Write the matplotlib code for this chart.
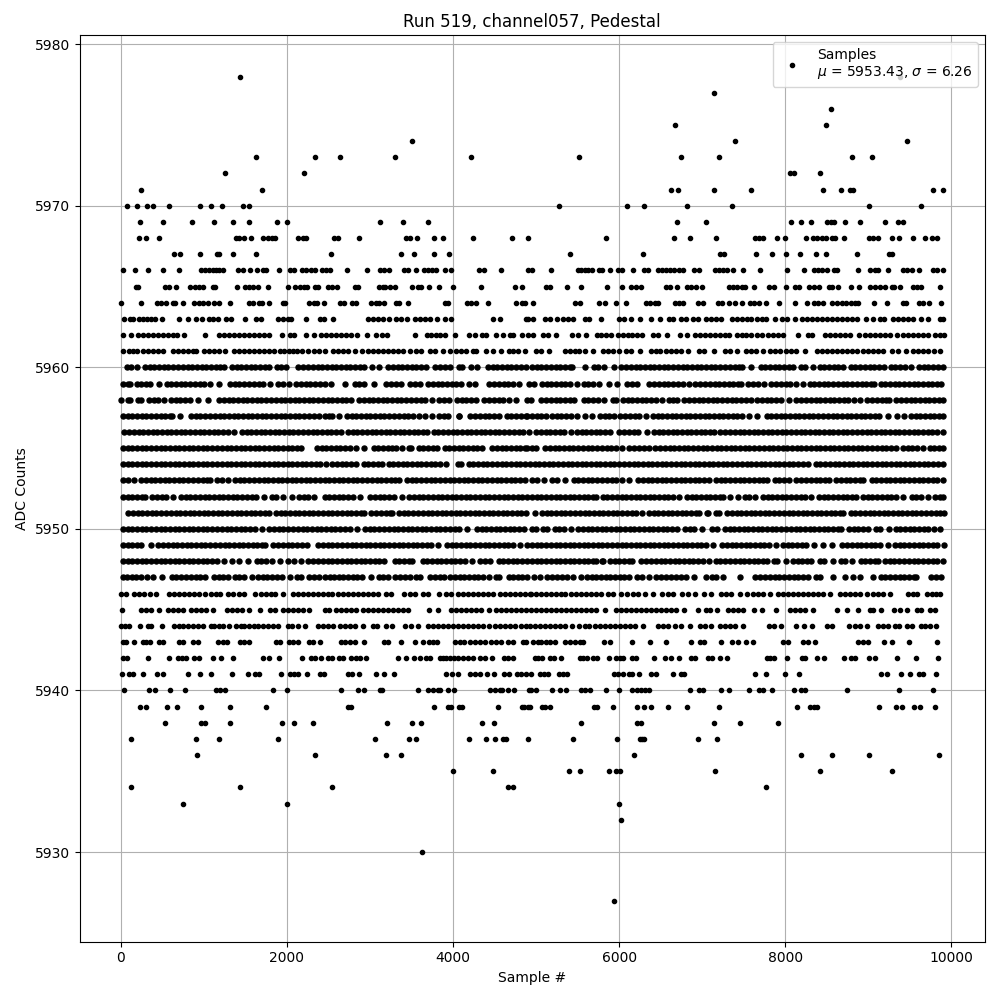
import matplotlib
matplotlib.use('Agg')
import matplotlib.pyplot as plt

# sample numbers, one list per ADC level
s5927 = [5940]
s5930 = [3626]
s5932 = [6024]
s5933 = [747, 2000, 6000]
s5934 = [120, 1434, 2542, 4663, 4723, 7771]
s5935 = [4000, 4482, 5398, 5530, 5880, 5968, 6016, 7157, 8421, 9289]
s5936 = [916, 2337, 3193, 3373, 6181, 8193, 8566, 9012, 9855]
s5937 = [120, 904, 1181, 1892, 3060, 3470, 3554, 4193, 4398, 4506, 4602, 4634, 4900, 5446, 5976, 6249, 6277, 6301, 6952, 7181]
s5938 = [530, 964, 1020, 1313, 1940, 2084, 2313, 3205, 3506, 3614, 4349, 4494, 5542, 6217, 6269, 7145, 7458, 7916]
s5939 = [229, 301, 554, 675, 964, 1313, 1747, 2735, 2775, 3771, 3936, 3980, 4068, 4104, 4542, 4827, 4859, 4900, 4924, 5072, 5112, 5173, 5699, 5731, 5928, 6217, 6305, 6386, 6590, 6819, 7205, 8145, 8301, 8345, 8385, 9132, 9337, 9402, 9550, 9618, 9807]
s5940 = [36, 337, 410, 590, 771, 1145, 1193, 1253, 1831, 2000, 2651, 2855, 2928, 3116, 3145, 3578, 3699, 3759, 3819, 3847, 3936, 4012, 4446, 4506, 4562, 4586, 4663, 4731, 4916, 4944, 5004, 5189, 5293, 5365, 5542, 5586, 5651, 5839, 6000, 6157, 6217, 6269, 6317, 6357, 6859, 6960, 7012, 7229, 7325, 7566, 7687, 7735, 7843, 8108, 8193, 8233, 8747, 9373, 9783]
s5941 = [12, 96, 153, 265, 434, 514, 807, 952, 1088, 1337, 1530, 1622, 1671, 1932, 2044, 2084, 2132, 2241, 2401, 2446, 2735, 2787, 2867, 3072, 3169, 3289, 3920, 3984, 4056, 4209, 4261, 4321, 4410, 4494, 4614, 4675, 4771, 4823, 4883, 4936, 5044, 5100, 5141, 5277, 5325, 5378, 5936, 5988, 6052, 6116, 6153, 6241, 6386, 6446, 6647, 6747, 6783, 7635, 7771, 8000, 8169, 9157, 9229, 9398, 9506, 9610, 9663, 9819]
s5942 = [24, 76, 325, 578, 687, 739, 787, 880, 940, 1116, 1205, 1349, 1711, 1791, 1904, 2185, 2293, 2341, 2406, 2494, 2542, 2634, 2675, 2775, 2827, 2887, 2948, 3337, 3434, 3530, 3598, 3679, 3727, 3839, 3879, 3920, 3960, 4008, 4060, 4120, 4181, 4241, 4321, 4381, 4470, 4614, 4663, 4723, 4984, 5024, 5076, 5165, 5213, 5301, 5526, 5566, 5614, 5687, 5739, 5880, 5960, 6008, 6048, 6161, 6201, 6422, 6554, 6626, 6723, 6871, 6912, 7072, 7124, 7217, 7301, 7783, 7823, 7867, 8024, 8197, 8237, 8386, 8466, 8711, 8791, 8839, 9012, 9080, 9349, 9578, 9843]
s5943 = [24, 64, 157, 265, 305, 353, 458, 514, 699, 747, 867, 928, 1169, 1237, 1277, 1438, 1482, 1542, 1871, 1920, 2024, 2072, 2132, 2265, 2321, 2401, 2655, 2703, 2763, 2815, 2928, 3165, 3213, 3373, 3542, 3639, 3707, 3759, 3807, 4020, 4080, 4128, 4209, 4261, 4321, 4381, 4462, 4522, 4582, 4663, 4723, 4843, 4883, 4964, 5024, 5064, 5124, 5173, 5225, 5349, 5406, 5466, 5526, 5566, 5815, 5896, 6157, 6374, 6570, 6871, 6972, 7028, 7229, 7361, 7434, 7534, 7614, 7976, 8036, 8217, 8277, 8361, 8879, 8940, 9000, 9185, 9281, 9494, 9831]
s5944 = [4, 56, 104, 229, 325, 365, 498, 647, 699, 755, 807, 867, 928, 988, 1088, 1128, 1189, 1237, 1301, 1390, 1450, 1490, 1550, 1610, 1651, 1711, 1771, 1831, 1892, 2012, 2064, 2132, 2213, 2381, 2434, 2494, 2554, 2635, 2695, 2755, 2815, 2916, 3036, 3084, 3197, 3265, 3418, 3498, 3578, 3699, 3759, 3819, 3879, 3940, 4000, 4060, 4120, 4181, 4241, 4301, 4361, 4434, 4502, 4562, 4622, 4683, 4743, 4823, 4883, 4924, 4984, 5044, 5104, 5165, 5225, 5285, 5345, 5434, 5518, 5586, 5639, 5707, 5767, 5827, 5888, 5948, 6008, 6068, 6129, 6189, 6289, 6470, 6530, 6590, 6671, 6751, 6855, 6972, 7032, 7112, 7213, 7273, 7333, 7393, 7494, 7803, 7863, 7944, 8129, 8229, 8317, 8498, 8558, 8771, 8839, 8899, 8980, 9120, 9181, 9241, 9321, 9369, 9462, 9530, 9631, 9683, 9743, 9815]
s5945 = [12, 245, 305, 365, 458, 566, 627, 687, 747, 847, 908, 968, 1028, 1108, 1281, 1341, 1402, 1462, 1550, 1675, 1803, 1859, 1952, 2012, 2072, 2132, 2193, 2265, 2454, 2506, 2594, 2655, 2715, 2775, 2835, 2916, 2976, 3036, 3096, 3157, 3217, 3277, 3337, 3398, 3458, 3707, 3819, 3980, 4040, 4100, 4161, 4221, 4281, 4341, 4434, 4522, 4582, 4643, 4703, 4763, 4823, 4883, 4944, 5004, 5064, 5124, 5185, 5245, 5305, 5365, 5426, 5486, 5546, 5606, 5667, 5727, 5827, 5968, 6028, 6088, 6149, 6209, 6269, 6329, 6390, 6450, 6510, 6570, 6630, 6691, 6779, 6952, 7052, 7100, 7181, 7313, 7373, 7434, 7494, 7626, 7715, 7888, 8056, 8116, 8177, 8237, 8329, 8627, 8739, 8879, 9020, 9060, 9149, 9309, 9381, 9470, 9582, 9631, 9743, 9803]
s5946 = [4, 64, 165, 225, 285, 353, 426, 586, 647, 707, 767, 827, 888, 948, 1020, 1088, 1149, 1201, 1289, 1349, 1422, 1490, 1618, 1691, 1751, 1811, 1863, 1956, 2072, 2132, 2193, 2253, 2313, 2373, 2434, 2494, 2546, 2614, 2675, 2735, 2795, 2855, 2916, 2976, 3036, 3096, 3197, 3257, 3406, 3478, 3538, 3639, 3699, 3827, 3920, 3980, 4060, 4120, 4181, 4241, 4301, 4361, 4422, 4482, 4562, 4622, 4683, 4743, 4803, 4863, 4924, 4944, 5004, 5064, 5124, 5185, 5245, 5305, 5345, 5426, 5486, 5546, 5606, 5667, 5727, 5787, 5867, 5928, 6028, 6096, 6169, 6229, 6309, 6410, 6522, 6590, 6651, 6763, 6831, 6912, 7020, 7104, 7233, 7293, 7353, 7454, 7542, 7614, 7675, 7735, 7815, 7916, 7976, 8036, 8096, 8157, 8217, 8277, 8337, 8398, 8458, 8538, 8659, 8719, 8779, 8839, 8899, 8980, 9060, 9120, 9181, 9261, 9482, 9542, 9582, 9703, 9763, 9815, 9863]
s5947 = [28, 80, 135, 190, 250, 317, 393, 498, 614, 670, 725, 790, 850, 905, 960, 1020, 1124, 1180, 1235, 1290, 1377, 1430, 1490, 1582, 1658, 1710, 1765, 1820, 1880, 1940, 2044, 2120, 2173, 2269, 2330, 2386, 2462, 2515, 2570, 2625, 2680, 2740, 2795, 2850, 2905, 3008, 3104, 3157, 3217, 3305, 3360, 3420, 3480, 3550, 3602, 3727, 3785, 3840, 3892, 3968, 4020, 4080, 4135, 4190, 4250, 4305, 4360, 4434, 4518, 4554, 4670, 4725, 4780, 4835, 4896, 4972, 5048, 5132, 5190, 5250, 5310, 5370, 5446, 5546, 5614, 5670, 5725, 5785, 5840, 5895, 5950, 6010, 6065, 6121, 6217, 6275, 6362, 6446, 6505, 6560, 6620, 6680, 6740, 6803, 6900, 7052, 7115, 7173, 7253, 7454, 7642, 7700, 7755, 7815, 7875, 7930, 7990, 8045, 8105, 8160, 8220, 8269, 8365, 8422, 8578, 8719, 8819, 8899, 9052, 9148, 9205, 9260, 9320, 9380, 9436, 9490, 9545, 9574, 9751, 9810, 9876]
s5948 = [28, 85, 140, 195, 255, 310, 365, 425, 480, 535, 595, 650, 705, 765, 820, 875, 935, 990, 1045, 1105, 1160, 1241, 1345, 1422, 1530, 1638, 1695, 1750, 1823, 1920, 2012, 2092, 2165, 2261, 2320, 2375, 2435, 2490, 2550, 2605, 2660, 2720, 2775, 2830, 2890, 2945, 3000, 3060, 3115, 3169, 3297, 3355, 3415, 3470, 3510, 3634, 3690, 3750, 3805, 3860, 3920, 3975, 4030, 4090, 4145, 4233, 4321, 4385, 4446, 4550, 4605, 4660, 4720, 4775, 4830, 4896, 4952, 5010, 5065, 5120, 5180, 5235, 5290, 5350, 5405, 5460, 5520, 5575, 5630, 5690, 5719, 5795, 5811, 5895, 5950, 6005, 6065, 6120, 6161, 6269, 6325, 6385, 6440, 6500, 6555, 6610, 6670, 6725, 6780, 6840, 6895, 6955, 7010, 7084, 7161, 7220, 7275, 7335, 7390, 7450, 7505, 7560, 7620, 7675, 7730, 7787, 7863, 7900, 8008, 8092, 8150, 8205, 8265, 8309, 8414, 8470, 8570, 8666, 8720, 8799, 8907, 8965, 9025, 9080, 9113, 9201, 9260, 9315, 9375, 9430, 9490, 9545, 9600, 9660, 9715, 9775, 9830, 9896]
s5949 = [28, 85, 140, 195, 249, 365, 454, 510, 570, 625, 680, 740, 795, 850, 910, 965, 1020, 1080, 1135, 1190, 1250, 1305, 1360, 1420, 1475, 1530, 1590, 1645, 1700, 1743, 1839, 1895, 1950, 2010, 2065, 2120, 2180, 2245, 2381, 2440, 2495, 2550, 2610, 2665, 2720, 2780, 2835, 2890, 2950, 3005, 3060, 3120, 3175, 3230, 3290, 3345, 3400, 3460, 3515, 3570, 3630, 3685, 3740, 3819, 3928, 3985, 4040, 4100, 4155, 4210, 4270, 4325, 4380, 4440, 4495, 4550, 4610, 4665, 4720, 4807, 4892, 4952, 5010, 5065, 5120, 5180, 5235, 5290, 5350, 5405, 5460, 5520, 5575, 5630, 5690, 5745, 5800, 5860, 5915, 5970, 6030, 6085, 6140, 6200, 6255, 6310, 6370, 6425, 6480, 6540, 6595, 6650, 6710, 6765, 6820, 6880, 6935, 6990, 7050, 7125, 7241, 7300, 7355, 7410, 7470, 7525, 7580, 7640, 7695, 7750, 7810, 7888, 7972, 8030, 8085, 8140, 8200, 8249, 8349, 8458, 8558, 8687, 8745, 8800, 8860, 8915, 8970, 9030, 9085, 9140, 9233, 9321, 9380, 9435, 9490, 9550, 9605, 9660, 9720, 9775, 9830, 9908]
s5950 = [28, 85, 140, 195, 255, 310, 365, 425, 480, 535, 595, 650, 705, 765, 820, 875, 935, 990, 1045, 1105, 1160, 1215, 1275, 1330, 1385, 1445, 1500, 1555, 1615, 1703, 1791, 1850, 1905, 1960, 2020, 2075, 2130, 2190, 2245, 2300, 2360, 2415, 2470, 2530, 2585, 2640, 2700, 2755, 2839, 2944, 3000, 3055, 3115, 3170, 3225, 3285, 3340, 3395, 3455, 3510, 3565, 3625, 3680, 3735, 3795, 3850, 3905, 3965, 4020, 4075, 4165, 4289, 4345, 4400, 4460, 4515, 4570, 4630, 4685, 4740, 4800, 4855, 4952, 4996, 5080, 5137, 5225, 5280, 5340, 5418, 5506, 5560, 5620, 5675, 5730, 5790, 5845, 5900, 5960, 6015, 6070, 6130, 6185, 6240, 6300, 6355, 6410, 6470, 6525, 6580, 6640, 6703, 6791, 6850, 6905, 7004, 7120, 7185, 7273, 7330, 7385, 7445, 7500, 7555, 7615, 7670, 7725, 7785, 7840, 7895, 7955, 8010, 8065, 8125, 8180, 8235, 8295, 8350, 8405, 8465, 8520, 8575, 8635, 8671, 8767, 8825, 8880, 8935, 8992, 9088, 9145, 9253, 9329, 9385, 9440, 9500, 9555, 9610, 9670, 9725, 9787, 9863]
s5951 = [92, 150, 205, 260, 320, 375, 430, 490, 545, 600, 660, 715, 770, 830, 885, 940, 1000, 1055, 1110, 1170, 1225, 1280, 1340, 1395, 1450, 1510, 1565, 1620, 1680, 1735, 1783, 1867, 1925, 1980, 2040, 2095, 2150, 2210, 2265, 2320, 2380, 2435, 2490, 2550, 2605, 2660, 2720, 2775, 2830, 2890, 2928, 3016, 3075, 3130, 3190, 3245, 3269, 3353, 3410, 3465, 3525, 3580, 3635, 3695, 3750, 3805, 3865, 3920, 3975, 4035, 4090, 4145, 4205, 4260, 4315, 4375, 4430, 4485, 4545, 4600, 4655, 4715, 4770, 4825, 4885, 4984, 5072, 5130, 5185, 5245, 5300, 5355, 5415, 5470, 5525, 5585, 5640, 5695, 5755, 5810, 5865, 5925, 5980, 6035, 6095, 6150, 6205, 6281, 6357, 6415, 6470, 6530, 6585, 6640, 6700, 6755, 6810, 6870, 6925, 6964, 7060, 7072, 7161, 7205, 7301, 7360, 7415, 7470, 7530, 7585, 7640, 7700, 7755, 7810, 7870, 7925, 7980, 8040, 8095, 8150, 8210, 8265, 8320, 8380, 8435, 8490, 8550, 8605, 8660, 8691, 8787, 8845, 8900, 8960, 9015, 9070, 9130, 9185, 9240, 9300, 9355, 9410, 9470, 9525, 9580, 9640, 9695, 9750, 9810, 9865, 9910]
s5952 = [28, 85, 140, 195, 255, 297, 381, 440, 495, 550, 631, 727, 785, 840, 895, 955, 1010, 1065, 1125, 1180, 1235, 1295, 1350, 1405, 1465, 1520, 1575, 1635, 1723, 1819, 1864, 1960, 2064, 2148, 2205, 2260, 2325, 2454, 2510, 2565, 2625, 2680, 2735, 2795, 2887, 3004, 3060, 3120, 3175, 3230, 3290, 3390, 3474, 3530, 3590, 3645, 3700, 3760, 3815, 3870, 3930, 3985, 4040, 4100, 4155, 4210, 4270, 4325, 4380, 4440, 4495, 4550, 4610, 4665, 4720, 4780, 4835, 4896, 4952, 5010, 5065, 5120, 5180, 5235, 5290, 5350, 5405, 5460, 5520, 5575, 5630, 5690, 5719, 5803, 5860, 5915, 5975, 6030, 6085, 6145, 6200, 6255, 6315, 6370, 6425, 6485, 6540, 6595, 6655, 6723, 6819, 6875, 6930, 6990, 7045, 7100, 7160, 7215, 7257, 7341, 7434, 7514, 7570, 7639, 7731, 7790, 7845, 7900, 7960, 8015, 8070, 8130, 8185, 8240, 8309, 8406, 8465, 8520, 8575, 8635, 8690, 8745, 8805, 8851, 8935, 8995, 9050, 9105, 9165, 9220, 9275, 9335, 9414, 9522, 9580, 9635, 9715, 9803, 9860, 9904]
s5953 = [28, 85, 157, 245, 305, 360, 415, 475, 530, 585, 645, 700, 755, 815, 870, 925, 985, 1040, 1072, 1157, 1215, 1289, 1377, 1435, 1490, 1550, 1605, 1660, 1720, 1775, 1830, 1890, 1945, 2000, 2060, 2115, 2170, 2230, 2285, 2340, 2400, 2455, 2510, 2570, 2625, 2680, 2740, 2795, 2850, 2910, 2965, 3020, 3080, 3135, 3190, 3250, 3305, 3349, 3446, 3505, 3560, 3620, 3675, 3730, 3790, 3845, 3900, 3960, 4015, 4070, 4130, 4185, 4240, 4300, 4355, 4410, 4470, 4525, 4580, 4640, 4695, 4750, 4810, 4865, 4952, 5010, 5096, 5193, 5250, 5346, 5454, 5510, 5570, 5625, 5680, 5740, 5795, 5850, 5910, 5965, 6040, 6120, 6229, 6285, 6345, 6400, 6455, 6515, 6570, 6625, 6685, 6740, 6795, 6855, 6910, 6965, 7025, 7084, 7169, 7225, 7280, 7340, 7395, 7450, 7510, 7565, 7620, 7680, 7735, 7787, 7875, 7930, 7990, 8048, 8136, 8195, 8250, 8305, 8365, 8420, 8475, 8530, 8614, 8670, 8730, 8785, 8840, 8900, 8932, 9040, 9095, 9150, 9210, 9265, 9320, 9380, 9435, 9490, 9550, 9605, 9660, 9720, 9775, 9830, 9896]
s5954 = [28, 85, 140, 195, 255, 310, 365, 425, 480, 535, 595, 650, 705, 765, 820, 875, 935, 990, 1045, 1105, 1160, 1215, 1275, 1330, 1385, 1445, 1500, 1555, 1615, 1670, 1725, 1785, 1840, 1895, 1955, 2010, 2065, 2125, 2180, 2235, 2295, 2350, 2405, 2466, 2542, 2600, 2660, 2715, 2770, 2827, 2924, 2980, 3040, 3095, 3149, 3225, 3280, 3340, 3395, 3450, 3510, 3565, 3620, 3680, 3735, 3790, 3850, 3912, 4060, 4092, 4189, 4245, 4300, 4360, 4415, 4470, 4530, 4585, 4640, 4700, 4755, 4810, 4870, 4925, 4985, 5040, 5095, 5155, 5210, 5265, 5325, 5380, 5435, 5495, 5550, 5605, 5665, 5720, 5775, 5835, 5890, 5945, 6005, 6060, 6115, 6175, 6230, 6285, 6345, 6400, 6455, 6515, 6570, 6625, 6685, 6740, 6795, 6855, 6910, 6965, 7025, 7080, 7135, 7195, 7250, 7305, 7365, 7420, 7475, 7535, 7590, 7645, 7705, 7760, 7815, 7875, 7930, 7985, 8045, 8100, 8155, 8215, 8270, 8365, 8425, 8480, 8535, 8595, 8650, 8705, 8765, 8820, 8875, 8935, 8990, 9045, 9105, 9160, 9215, 9275, 9330, 9385, 9445, 9500, 9555, 9615, 9670, 9725, 9785, 9840, 9896]
s5955 = [28, 85, 140, 195, 255, 310, 365, 425, 480, 535, 595, 650, 705, 765, 820, 875, 935, 990, 1045, 1105, 1160, 1215, 1275, 1330, 1385, 1445, 1500, 1555, 1615, 1670, 1725, 1785, 1840, 1895, 1955, 2010, 2065, 2125, 2165, 2361, 2420, 2475, 2530, 2590, 2645, 2700, 2760, 2827, 2928, 3044, 3100, 3160, 3215, 3270, 3314, 3382, 3470, 3490, 3586, 3645, 3700, 3760, 3803, 3899, 3955, 4015, 4070, 4125, 4185, 4240, 4295, 4354, 4470, 4525, 4585, 4640, 4695, 4755, 4810, 4865, 4896, 4952, 5004, 5112, 5170, 5225, 5280, 5340, 5395, 5450, 5510, 5565, 5620, 5680, 5735, 5790, 5850, 5905, 5960, 6040, 6124, 6180, 6240, 6295, 6362, 6438, 6495, 6550, 6610, 6665, 6720, 6780, 6835, 6890, 6950, 7005, 7060, 7120, 7175, 7230, 7290, 7345, 7400, 7460, 7515, 7570, 7630, 7685, 7740, 7800, 7855, 7910, 7970, 8025, 8080, 8140, 8195, 8250, 8310, 8365, 8420, 8480, 8535, 8590, 8650, 8705, 8760, 8820, 8875, 8930, 8990, 9045, 9100, 9160, 9215, 9270, 9333, 9418, 9475, 9530, 9590, 9655, 9739, 9795, 9850, 9904]
s5956 = [44, 100, 155, 215, 270, 325, 385, 440, 495, 555, 610, 665, 725, 780, 835, 895, 950, 1005, 1065, 1120, 1175, 1235, 1290, 1370, 1458, 1515, 1570, 1630, 1685, 1740, 1800, 1855, 1910, 1970, 2025, 2080, 2140, 2195, 2250, 2310, 2365, 2420, 2480, 2535, 2590, 2647, 2735, 2795, 2850, 2905, 2965, 3020, 3075, 3135, 3190, 3245, 3305, 3360, 3415, 3475, 3530, 3585, 3645, 3691, 3767, 3825, 3880, 3940, 3995, 4050, 4110, 4165, 4220, 4280, 4335, 4390, 4450, 4505, 4560, 4620, 4675, 4730, 4790, 4845, 4916, 5000, 5060, 5115, 5170, 5230, 5285, 5340, 5418, 5494, 5550, 5605, 5665, 5720, 5775, 5835, 5892, 6004, 6060, 6115, 6175, 6230, 6333, 6418, 6475, 6530, 6590, 6645, 6700, 6760, 6815, 6870, 6930, 6985, 7040, 7100, 7145, 7221, 7280, 7335, 7390, 7450, 7505, 7560, 7620, 7675, 7730, 7790, 7845, 7900, 7960, 8015, 8070, 8130, 8185, 8240, 8300, 8355, 8410, 8470, 8525, 8580, 8640, 8695, 8750, 8810, 8865, 8920, 8980, 9035, 9090, 9150, 9205, 9260, 9320, 9375, 9430, 9490, 9545, 9600, 9660, 9715, 9770, 9830, 9896]
s5957 = [28, 85, 140, 195, 255, 310, 365, 425, 480, 535, 595, 618, 715, 847, 905, 960, 1020, 1075, 1130, 1190, 1245, 1300, 1360, 1415, 1470, 1530, 1585, 1640, 1700, 1755, 1810, 1870, 1925, 1980, 2040, 2095, 2150, 2210, 2265, 2325, 2385, 2454, 2510, 2546, 2626, 2723, 2780, 2835, 2895, 2950, 3005, 3065, 3120, 3175, 3235, 3290, 3345, 3405, 3460, 3515, 3590, 3666, 3743, 3835, 3890, 3940, 4068, 4072, 4209, 4265, 4325, 4380, 4435, 4495, 4554, 4650, 4705, 4765, 4820, 4875, 4896, 4952, 5010, 5065, 5117, 5193, 5250, 5305, 5365, 5420, 5498, 5586, 5679, 5767, 5825, 5880, 5940, 6016, 6075, 6130, 6190, 6245, 6321, 6406, 6465, 6520, 6575, 6635, 6690, 6745, 6805, 6860, 6915, 6975, 7030, 7085, 7145, 7200, 7255, 7315, 7370, 7425, 7485, 7566, 7663, 7775, 7830, 7890, 7945, 8000, 8060, 8115, 8170, 8230, 8285, 8340, 8400, 8455, 8510, 8570, 8625, 8680, 8740, 8795, 8850, 8910, 8965, 9020, 9080, 9135, 9233, 9349, 9434, 9510, 9570, 9625, 9680, 9740, 9795, 9850, 9896]
s5958 = [0, 84, 109, 205, 245, 345, 400, 455, 518, 606, 665, 720, 775, 831, 927, 1048, 1185, 1245, 1300, 1355, 1415, 1470, 1525, 1585, 1640, 1695, 1755, 1810, 1865, 1925, 1980, 2035, 2095, 2150, 2205, 2265, 2320, 2375, 2435, 2490, 2545, 2605, 2660, 2715, 2767, 2871, 2930, 2985, 3040, 3100, 3155, 3210, 3270, 3325, 3380, 3440, 3495, 3550, 3610, 3665, 3751, 3835, 3890, 3952, 4048, 4105, 4160, 4220, 4281, 4377, 4435, 4490, 4550, 4605, 4675, 4755, 4892, 4944, 5064, 5120, 5175, 5235, 5290, 5345, 5405, 5458, 5574, 5630, 5690, 5745, 5819, 5924, 5960, 6048, 6105, 6160, 6220, 6275, 6330, 6390, 6445, 6522, 6598, 6655, 6703, 6787, 6845, 6900, 6960, 7015, 7070, 7130, 7185, 7240, 7300, 7355, 7410, 7470, 7525, 7586, 7663, 7720, 7780, 7835, 7890, 7950, 8048, 8136, 8195, 8250, 8305, 8365, 8420, 8475, 8535, 8590, 8645, 8705, 8760, 8831, 8900, 8988, 9045, 9100, 9160, 9215, 9253, 9337, 9395, 9450, 9510, 9565, 9620, 9680, 9735, 9790, 9850, 9896]
s5959 = [28, 85, 117, 193, 250, 305, 357, 466, 554, 610, 665, 725, 780, 835, 895, 950, 1005, 1080, 1185, 1317, 1375, 1430, 1490, 1545, 1600, 1660, 1715, 1795, 1891, 1950, 2024, 2112, 2170, 2225, 2285, 2340, 2400, 2455, 2526, 2695, 2815, 2870, 2928, 3044, 3193, 3250, 3310, 3378, 3486, 3545, 3603, 3699, 3755, 3815, 3870, 3925, 3985, 4040, 4092, 4189, 4265, 4438, 4495, 4550, 4610, 4665, 4720, 4795, 4920, 4976, 5072, 5130, 5185, 5245, 5300, 5355, 5415, 5498, 5574, 5630, 5690, 5759, 5875, 5972, 6096, 6150, 6221, 6365, 6425, 6480, 6540, 6595, 6650, 6710, 6765, 6843, 6920, 6980, 7035, 7090, 7150, 7205, 7260, 7320, 7375, 7430, 7466, 7554, 7610, 7670, 7747, 7835, 7890, 7950, 8005, 8060, 8129, 8217, 8293, 8350, 8410, 8465, 8520, 8580, 8635, 8690, 8750, 8805, 8860, 8920, 8975, 9030, 9072, 9148, 9205, 9260, 9320, 9375, 9430, 9490, 9545, 9600, 9660, 9715, 9770, 9830, 9876]
s5960 = [72, 125, 197, 293, 350, 405, 465, 520, 575, 635, 690, 745, 805, 860, 915, 975, 1030, 1085, 1145, 1200, 1241, 1337, 1395, 1450, 1510, 1565, 1620, 1680, 1735, 1783, 1879, 1930, 1996, 2140, 2200, 2255, 2310, 2370, 2425, 2480, 2540, 2595, 2650, 2710, 2765, 2820, 2880, 2935, 3028, 3108, 3221, 3280, 3335, 3390, 3450, 3505, 3560, 3620, 3671, 3787, 3845, 3900, 3964, 4068, 4113, 4221, 4293, 4422, 4480, 4535, 4590, 4650, 4705, 4760, 4820, 4875, 4952, 5010, 5065, 5120, 5180, 5235, 5290, 5350, 5405, 5430, 5586, 5695, 5750, 5819, 5936, 6028, 6085, 6140, 6200, 6255, 6310, 6370, 6425, 6480, 6540, 6595, 6650, 6710, 6765, 6820, 6880, 6935, 6990, 7050, 7105, 7160, 7220, 7275, 7330, 7390, 7445, 7486, 7594, 7703, 7760, 7815, 7875, 7930, 7985, 8045, 8088, 8185, 8240, 8329, 8414, 8470, 8530, 8585, 8640, 8691, 8787, 8845, 8900, 8960, 9015, 9070, 9130, 9193, 9269, 9325, 9385, 9440, 9514, 9610, 9670, 9725, 9785, 9840, 9896]
s5961 = [24, 96, 145, 193, 265, 325, 386, 446, 506, 627, 687, 747, 807, 867, 908, 1008, 1060, 1129, 1189, 1257, 1361, 1422, 1490, 1550, 1610, 1671, 1731, 1791, 1851, 1912, 1972, 2032, 2072, 2120, 2181, 2253, 2325, 2385, 2454, 2554, 2614, 2675, 2735, 2815, 2908, 2976, 3036, 3096, 3157, 3217, 3277, 3337, 3398, 3478, 3550, 3618, 3719, 3783, 3879, 3960, 4040, 4100, 4161, 4241, 4281, 4402, 4482, 4578, 4671, 4723, 4783, 4863, 5004, 5064, 5157, 5345, 5406, 5466, 5518, 5586, 5687, 5807, 5867, 5928, 6000, 6088, 6149, 6249, 6382, 6442, 6498, 6562, 6630, 6691, 6751, 6831, 6960, 7020, 7141, 7273, 7333, 7422, 7526, 7586, 7647, 7735, 7815, 7875, 7936, 8008, 8068, 8125, 8237, 8378, 8438, 8498, 8558, 8618, 8679, 8739, 8799, 8859, 8940, 9000, 9060, 9120, 9181, 9281, 9361, 9454, 9542, 9602, 9663, 9723, 9791, 9859]
s5962 = [24, 120, 205, 265, 325, 386, 446, 506, 566, 627, 675, 759, 1012, 1181, 1241, 1301, 1361, 1422, 1482, 1550, 1610, 1671, 1723, 1783, 1944, 2044, 2092, 2233, 2325, 2414, 2474, 2534, 2594, 2655, 2715, 2775, 2843, 2960, 3072, 3145, 3209, 3542, 3687, 3739, 3791, 3847, 3900, 4024, 4193, 4261, 4353, 4393, 4522, 4602, 4683, 4723, 4835, 4904, 4964, 5084, 5145, 5245, 5438, 5506, 5598, 5735, 5787, 5847, 5900, 5988, 6048, 6108, 6161, 6217, 6277, 6410, 6470, 6578, 6731, 6819, 6912, 6972, 7032, 7092, 7153, 7213, 7273, 7321, 7414, 7474, 7534, 7594, 7655, 7715, 7795, 7855, 7916, 7976, 8157, 8277, 8325, 8478, 8538, 8598, 8659, 8719, 8779, 8892, 8960, 9020, 9080, 9141, 9201, 9261, 9341, 9422, 9482, 9542, 9602, 9663, 9723, 9803, 9863, 9910]
s5963 = [36, 116, 149, 217, 265, 317, 369, 418, 498, 699, 807, 904, 976, 1060, 1108, 1173, 1269, 1329, 1498, 1626, 1691, 1896, 1960, 2012, 2056, 2233, 2402, 2442, 2554, 2976, 3036, 3096, 3157, 3229, 3317, 3377, 3450, 3542, 3598, 3659, 3719, 3807, 3908, 3980, 4482, 4570, 4875, 4904, 4964, 5104, 5165, 5253, 5325, 5386, 5446, 5586, 5639, 5783, 6000, 6064, 6149, 6253, 6386, 6490, 6602, 6651, 6751, 6803, 6892, 6952, 7052, 7112, 7173, 7233, 7361, 7422, 7482, 7542, 7594, 7655, 7715, 7767, 7883, 7956, 8016, 8120, 8205, 8257, 8317, 8377, 8438, 8498, 8558, 8618, 8679, 8739, 8799, 8867, 8976, 9060, 9141, 9189, 9301, 9361, 9422, 9482, 9534, 9630, 9723, 9863, 9904]
s5964 = [0, 241, 434, 486, 546, 627, 659, 747, 888, 940, 996, 1048, 1129, 1189, 1313, 1542, 1590, 1663, 1707, 1791, 1952, 1984, 2273, 2325, 2369, 2446, 2642, 2683, 2779, 2835, 3016, 3068, 3108, 3173, 3309, 3349, 3458, 3900, 3940, 4169, 4221, 4281, 4422, 4763, 4831, 4863, 4964, 5474, 5526, 5759, 5827, 5964, 6084, 6329, 6378, 6430, 6470, 6675, 6723, 6771, 6956, 7012, 7193, 7245, 7321, 7390, 7486, 7574, 7626, 7687, 7771, 7928, 8120, 8265, 8349, 8398, 8450, 8558, 8618, 8679, 8727, 8787, 8839, 8879, 9072, 9229, 9414, 9454, 9614, 9663, 9731, 9880]
s5965 = [185, 209, 534, 578, 667, 835, 899, 940, 996, 1108, 1141, 1402, 1502, 1550, 1590, 1651, 1771, 2012, 2104, 2153, 2201, 2249, 2337, 2377, 2494, 2546, 2602, 2815, 2855, 3104, 3157, 3177, 3245, 3297, 3506, 3578, 3618, 3707, 3831, 4000, 4337, 4747, 4831, 5124, 5165, 5373, 5542, 5855, 6036, 6149, 6209, 6265, 6562, 6618, 6695, 6819, 6871, 6924, 7000, 7325, 7373, 7422, 7474, 7514, 7626, 7803, 7863, 8012, 8116, 8169, 8289, 8345, 8410, 8526, 8566, 8638, 8795, 8892, 9020, 9080, 9141, 9201, 9281, 9309, 9386, 9542, 9582, 9631, 9867]
s5966 = [24, 169, 325, 506, 699, 964, 1020, 1060, 1108, 1149, 1189, 1229, 1414, 1470, 1562, 1639, 1719, 1751, 1904, 2044, 2084, 2185, 2233, 2293, 2341, 2422, 2466, 2514, 2723, 2964, 3116, 3165, 3229, 3406, 3458, 3554, 3647, 3699, 3743, 3799, 3908, 3980, 4313, 4370, 4578, 4900, 4956, 5181, 5506, 5546, 5586, 5627, 5675, 5755, 5799, 5892, 5988, 6036, 6169, 6297, 6353, 6470, 6518, 6566, 6614, 6663, 6723, 6771, 6904, 6964, 7157, 7205, 7253, 7301, 7377, 7494, 7699, 8024, 8229, 8349, 8398, 8446, 8506, 8586, 8626, 8879, 9020, 9080, 9120, 9241, 9414, 9462, 9530, 9615, 9783, 9831, 9904]
s5967 = [647, 715, 952, 1157, 1189, 1349, 1626, 2530, 3373, 3530, 3771, 3952, 5410, 6289, 7213, 7261, 7651, 7843, 8012, 8181, 8374, 8494, 8867, 9245, 9285]
s5968 = [217, 301, 458, 1390, 1422, 1482, 1566, 1711, 1771, 1823, 1863, 2132, 2193, 2233, 2574, 2614, 2867, 3438, 3486, 3566, 3771, 3879, 4241, 4711, 4900, 5843, 6663, 6855, 7169, 7639, 7687, 7735, 7904, 8000, 8253, 8337, 8377, 8438, 8486, 8558, 8598, 8711, 9012, 9052, 9120, 9289, 9373, 9542, 9687, 9767, 9831]
s5969 = [229, 506, 855, 1120, 1349, 1542, 1879, 2000, 3120, 3398, 3699, 6699, 7048, 8072, 8193, 8313, 8506, 8554, 8586, 8723, 8903, 9205, 9361, 9422]
s5970 = [72, 193, 313, 386, 578, 952, 1084, 1217, 1478, 1546, 5277, 6096, 6301, 6819, 7361, 9012, 9638]
s5971 = [241, 1699, 6626, 6715, 7145, 7591, 8458, 8675, 8779, 8811, 9783, 9904]
s5972 = [1253, 2205, 8060, 8108, 8421]
s5973 = [1626, 2337, 2638, 3301, 4217, 5518, 6747, 7205, 8807, 9048]
s5974 = [3506, 7397, 9470]
s5975 = [6675, 8494]
s5976 = [8554]
s5977 = [7145]
s5978 = [1434, 9381]

levels = [5927, 5930, 5932, 5933, 5934, 5935, 5936, 5937, 5938, 5939, 5940, 5941, 5942, 5943, 5944, 5945, 5946, 5947, 5948, 5949, 5950, 5951, 5952, 5953, 5954, 5955, 5956, 5957, 5958, 5959, 5960, 5961, 5962, 5963, 5964, 5965, 5966, 5967, 5968, 5969, 5970, 5971, 5972, 5973, 5974, 5975, 5976, 5977, 5978]
samples = [s5927, s5930, s5932, s5933, s5934, s5935, s5936, s5937, s5938, s5939, s5940, s5941, s5942, s5943, s5944, s5945, s5946, s5947, s5948, s5949, s5950, s5951, s5952, s5953, s5954, s5955, s5956, s5957, s5958, s5959, s5960, s5961, s5962, s5963, s5964, s5965, s5966, s5967, s5968, s5969, s5970, s5971, s5972, s5973, s5974, s5975, s5976, s5977, s5978]

x = []
y = []
denseX = []
denseY = []
for level, row in zip(levels, samples):
    # the crowded rows merge into solid bands in the original
    if 5947 <= level <= 5960:
        denseX += row
        denseY += [level]*len(row)
    else:
        x += row
        y += [level]*len(row)

fig, ax = plt.subplots(figsize=(10, 10), dpi=100)
ax.plot(denseX, denseY, 'k.', markersize=7.2)
ax.plot(x, y, 'k.', label='Samples\n$\\mu$ = 5953.43, $\\sigma$ = 6.26')
ax.set_title('Run 519, channel057, Pedestal')
ax.set_xlabel('Sample #')
ax.set_ylabel('ADC Counts')
ax.grid(True)
ax.legend(loc='upper right')
fig.tight_layout()
fig.subplots_adjust(top=ax.get_position().y1 + 0.002)
fig.savefig('out.png')
